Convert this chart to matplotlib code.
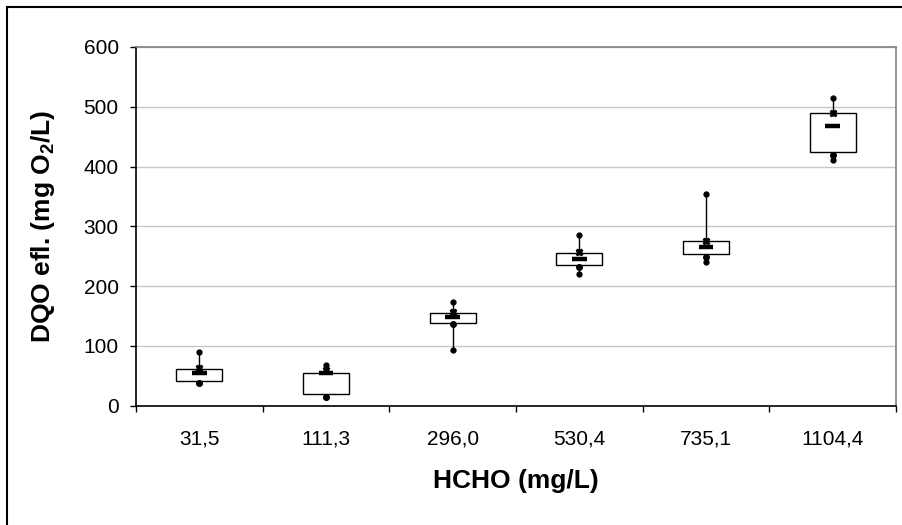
import matplotlib
matplotlib.use("Agg")
import matplotlib.pyplot as plt
from matplotlib.patches import Rectangle

plt.rcParams['font.family'] = ['Liberation Sans', 'DejaVu Sans']
plt.rcParams['mathtext.fontset'] = 'custom'
plt.rcParams['mathtext.rm'] = 'Liberation Sans'
plt.rcParams['mathtext.bf'] = 'Liberation Sans:bold'

# data (mg O2/L)
categories = ['31,5', '111,3', '296,0', '530,4', '735,1', '1104,4']
max_vals = [90, 68, 174, 285, 354, 515]
x_marks = [63, 60, 156, 257, 276, 490]
q3_vals = [62, 55, 155, 256, 276, 490]
medians = [54, 55, 148, 245, 265, 468]
q1_vals = [42, 19, 139, 236, 253, 424]
low_dots = [38, 15, 136, 232, 249, 420]
min_vals = [38, 15, 94, 221, 241, 411]

W, H = 903, 525
fig = plt.figure(figsize=(W / 100, H / 100), dpi=100)
ax = fig.add_axes([136 / W, 1 - 405.7 / H, (896 - 136) / W, (405.7 - 47) / H])

pos = list(range(len(categories)))

ax.vlines(pos, min_vals, max_vals, color='black', lw=1.0, zorder=3)
ax.bar(pos, [a - b for a, b in zip(q3_vals, q1_vals)], bottom=q1_vals, width=0.364,
       facecolor='white', edgecolor='black', lw=1.0, zorder=4)
ax.hlines(medians, [p - 0.058 for p in pos], [p + 0.058 for p in pos],
          color='black', lw=3.2, zorder=5)
ax.plot(pos, max_vals, 'o', color='black', ms=3.5, zorder=6)
ax.plot(pos, min_vals, 'o', color='black', ms=3.5, zorder=6)
ax.plot(pos, low_dots, 'o', color='black', ms=4, zorder=6)
ax.plot(pos, x_marks, 'X', color='black', ms=4.5, zorder=6)

ax.set_xlim(-0.5, len(categories) - 0.5)
ax.set_ylim(0, 600)
ax.set_yticks(range(0, 601, 100))
ax.yaxis.grid(True, color='#c8c8c8', lw=1.0)
ax.set_axisbelow(True)

ax.set_xticks(pos)
ax.set_xticklabels(categories)
ax.set_xticks([p - 0.5 for p in pos] + [len(pos) - 0.5], minor=True)
ax.tick_params(axis='x', which='major', length=0, pad=17, labelsize=15)
ax.tick_params(axis='x', which='minor', length=4.5, width=1.0, direction='out')
ax.tick_params(axis='y', length=4.5, width=1.0, pad=8, labelsize=15)

for side in ['top', 'right']:
    ax.spines[side].set_color('#808080')
    ax.spines[side].set_linewidth(1.2)
for side in ['left', 'bottom']:
    ax.spines[side].set_color('black')
    ax.spines[side].set_linewidth(1.2)

ax.set_xlabel('HCHO (mg/L)', fontsize=19, fontweight='bold')
ax.xaxis.set_label_coords(0.5, -(469 - 405.7) / (405.7 - 47))
ax.set_ylabel(r'DQO efl. (mg O$_\mathbf{2}$/L)', fontsize=19, fontweight='bold')
ax.yaxis.set_label_coords(-(136 - 57) / (896 - 136), 0.5)

fig.patches.append(Rectangle((7 / W, -0.5), 2, 1.5 - 7 / H, transform=fig.transFigure,
                             fill=False, edgecolor='black', lw=1.5))

fig.savefig('out.png', dpi=100)
